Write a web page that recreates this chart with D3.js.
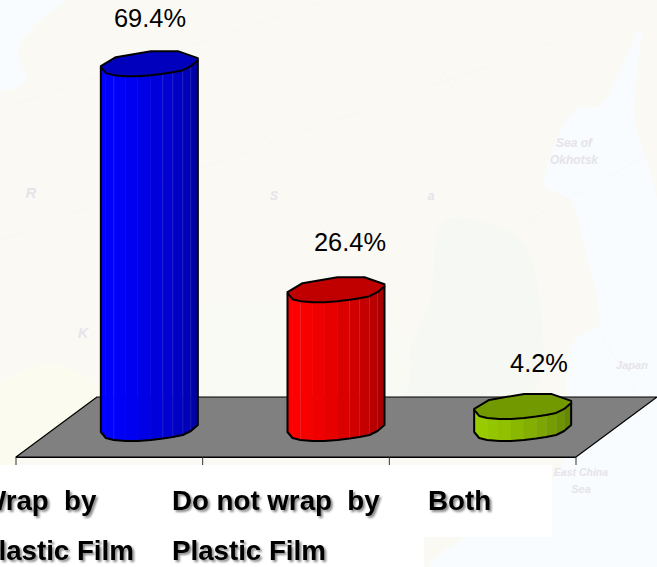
<!DOCTYPE html>
<html>
<head>
<meta charset="utf-8">
<script src="https://cdn.jsdelivr.net/npm/d3@7"></script>
<style>
	html, body { margin: 0; padding: 0; background: #fbf9f4; overflow: hidden; }
	text { font-family: "Liberation Sans", Arial, sans-serif; white-space: pre; }
	.valuelabel { font-size: 25.4px; fill: #000; }
	.catlabel { font-size: 27.7px; font-weight: bold; fill: #000; filter: drop-shadow(2px 2px 1px #888); }
	.maplabel { fill: #e6e3ea; font-weight: bold; font-style: italic; }
</style>
</head>
<body>
<div id="chart"></div>
<script>
// data
var categories = ["Wrap  by|Plastic Film", "Do not wrap  by|Plastic Film", "Both"]
var values = [69.4, 26.4, 4.2]
var valueLabels = ["69.4%", "26.4%", "4.2%"]
var sideColors = ["#0000ff", "#ff0000", "#99cc00"]
var topColors = ["#0000bd", "#c00000", "#739900"]

// outline of the faceted cylinder, offsets from the left end of the top
var frontRing = [[0, 0], [5, 6], [13, 8], [25, 9], [37, 9], [50, 8], [62, 6.5], [72, 5], [82, 3], [90, -1], [97, -7]]
var backRing = [[97, -9], [77, -16], [50, -16], [15, -10], [0, -1]]
var facetShade = [1, 1, 0.97, 0.94, 0.9, 0.86, 0.82, 0.77, 0.72, 0.66]
var seams = [2, 6, 7, 8, 9] // facet edges that show a thin light line

var svg = d3.select("#chart")
	.append("svg")
	.attr("width", 657)
	.attr("height", 567)
	.style("display", "block")

// faint map behind the chart
var bg = svg.append("g")
var smooth = d3.line().curve(d3.curveCatmullRomClosed)
var seaShapes = [
	[[0, 0], [65, 0], [40, 20], [18, 50], [25, 80], [0, 90]],
	[[640, 30], [620, 70], [600, 105], [575, 110], [545, 185], [570, 200], [585, 250], [600, 330], [575, 400], [657, 400], [657, 200], [635, 120]],
	[[575, 340], [657, 330], [657, 567], [430, 567], [560, 470]]
]
bg.selectAll(".sea")
	.data(seaShapes)
	.join("path")
	.attr("class", "sea")
	.attr("d", smooth)
	.style("fill", "#f8fcfe")
var lands = [
	{ pts: [[445, 220], [520, 240], [540, 300], [530, 395], [400, 395], [430, 300]], c: "#f6f9f3" },
	{ pts: [[0, 385], [60, 365], [100, 395], [20, 460], [0, 465]], c: "#fbfbef" },
	{ pts: [[130, 340], [290, 300], [400, 330], [400, 400], [130, 395]], c: "#fafaf5" }
]
bg.selectAll(".land")
	.data(lands)
	.join("path")
	.attr("class", "land")
	.attr("d", d => smooth(d.pts))
	.style("fill", d => d.c)
// graticule
var gratLines = [
	[[70, 0], [330, 400]], [[180, 0], [430, 400]], [[400, 0], [640, 400]], [[0, 110], [330, 0]],
	[[0, 240], [560, 40]], [[200, 400], [657, 150]]
]
bg.selectAll(".grat")
	.data(gratLines)
	.join("path")
	.attr("class", "grat")
	.attr("d", d => d3.line()(d))
	.style("fill", "none")
	.style("stroke", "#eef3f7")
	.style("stroke-dasharray", "1,2")
var mapNames = [
	{ t: "Sea of", x: 574, y: 147, s: 12 },
	{ t: "Okhotsk", x: 574, y: 164, s: 12 },
	{ t: "East China", x: 581, y: 476, s: 10.5 },
	{ t: "Sea", x: 581, y: 493, s: 11 },
	{ t: "Japan", x: 632, y: 369, s: 11 },
	{ t: "R", x: 31, y: 198, s: 15 },
	{ t: "S", x: 274, y: 200, s: 12 },
	{ t: "a", x: 431, y: 200, s: 12 },
	{ t: "K", x: 83, y: 338, s: 14 }
]
bg.selectAll(".maplabel")
	.data(mapNames)
	.join("text")
	.attr("class", "maplabel")
	.attr("x", d => d.x)
	.attr("y", d => d.y)
	.attr("text-anchor", "middle")
	.style("font-size", d => d.s + "px")
	.text(d => d.t)

// white boxes under the category names
svg.append("rect").attr("x", 0).attr("y", 465).attr("width", 552).attr("height", 72).style("fill", "#fff")
svg.append("rect").attr("x", 0).attr("y", 537).attr("width", 424).attr("height", 30).style("fill", "#fff")

// scales
var xScale = d3.scaleBand().domain(categories).range([16, 576])
var yScale = d3.scaleLinear().domain([0, 70]).range([0, 368])
var axisScale = d3.scaleLinear().domain([0, 3]).range([16, 576])
var floorY = 457, floorBack = 397, depth = 81, baseY = 432

// floor
svg.append("path")
	.attr("d", d3.line()([[16, floorY], [16 + depth, floorBack], [576 + depth, floorBack], [576, floorY]]) + "Z")
	.style("fill", "#808080")
	.style("stroke", "#000")
	.style("stroke-width", 1.2)
	.style("stroke-linejoin", "round")

var xAxis = d3.axisBottom(axisScale).ticks(3).tickSize(8).tickSizeOuter(0).tickFormat("")
var axisG = svg.append("g")
	.attr("transform", "translate(-0.5," + floorY + ")")
	.call(xAxis)
axisG.select(".domain").style("stroke", "#000")
axisG.selectAll(".tick line").style("stroke", "#333")

// bars
var line = d3.line()
var bars = svg.selectAll(".bar")
	.data(values)
	.join("g")
	.attr("class", "bar")

bars.each(function(v, i) {
	var g = d3.select(this)
	var left = xScale(categories[i]) + xScale.bandwidth() / 2 + 40 - 48.5
	var h = yScale(v)
	var topY = baseY - h
	var front = frontRing.map(p => [left + p[0], topY + p[1]])
	var back = backRing.map(p => [left + p[0], topY + p[1]])
	var base = d3.rgb(sideColors[i])

	// one quad per facet, darker towards the right
	for (var k = 0; k < front.length - 1; k++) {
		var a = front[k], b = front[k + 1]
		var s = facetShade[k]
		var col = d3.rgb(base.r * s, base.g * s, base.b * s).formatHex()
		g.append("path")
			.attr("d", line([a, b, [b[0], b[1] + h], [a[0], a[1] + h]]) + "Z")
			.style("fill", col)
			.style("stroke", col)
			.style("stroke-width", 0.6)
	}
	seams.forEach(function(n) {
		var p = front[n]
		g.append("path")
			.attr("d", line([p, [p[0], p[1] + h]]))
			.style("stroke", "#fff")
			.style("stroke-opacity", 0.1)
			.style("stroke-width", 1)
	})
	// top lid
	g.append("path")
		.attr("d", line(front.concat(back)) + "Z")
		.style("fill", topColors[i])
		.style("stroke", "#000")
		.style("stroke-width", 2)
		.style("stroke-linejoin", "round")
	// silhouette of the side
	var lower = front.map(p => [p[0], p[1] + h])
	g.append("path")
		.attr("d", line([front[0]].concat(lower, [front[front.length - 1]])))
		.style("fill", "none")
		.style("stroke", "#000")
		.style("stroke-width", 2)
		.style("stroke-linejoin", "round")
})

// value labels
var labelX = [150, 350, 539]
var labelY = [27, 251, 372]
svg.selectAll(".valuelabel")
	.data(valueLabels)
	.join("text")
	.attr("class", "valuelabel")
	.attr("x", (d, i) => labelX[i])
	.attr("y", (d, i) => labelY[i])
	.attr("text-anchor", "middle")
	.text(d => d)

// category labels, split on |
var catX = [-20, 172, 428]
categories.forEach(function(c, i) {
	c.split("|").forEach(function(s, j) {
		svg.append("text")
			.attr("class", "catlabel")
			.attr("x", catX[i])
			.attr("y", 510 + j * 50)
			.text(s)
	})
})
</script>
</body>
</html>
